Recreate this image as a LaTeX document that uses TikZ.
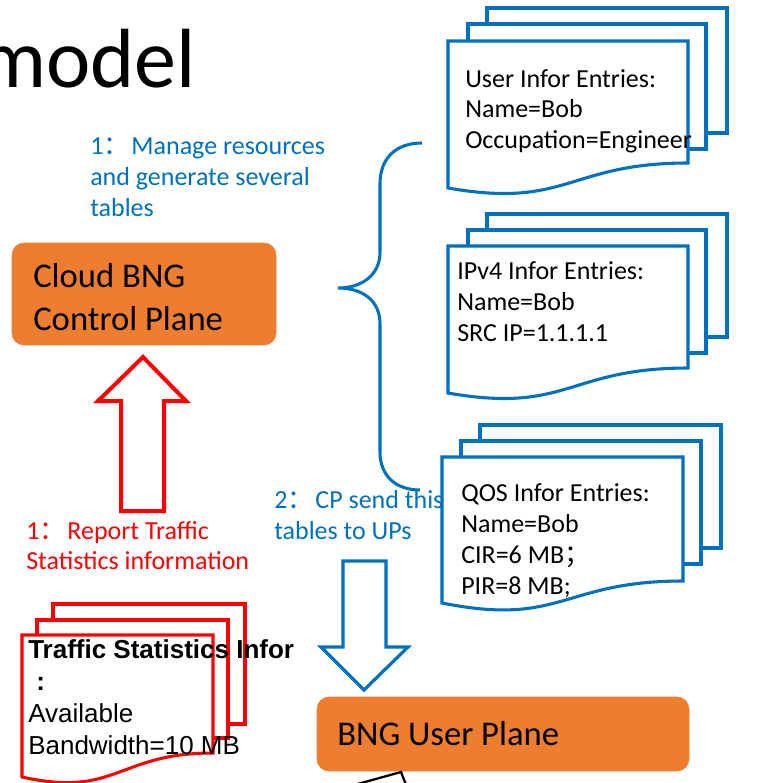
\documentclass[tikz,border=0pt]{standalone}
\usepackage{fontspec}
\setmainfont{Carlito}
\newfontfamily\arialf{Liberation Sans}
\newfontfamily\cjk{Noto Sans CJK SC}
\definecolor{pblue}{HTML}{0070C0}
\definecolor{porange}{HTML}{ED7D31}
\definecolor{pred}{HTML}{FF0000}
\newcommand\mylines[1]{\vtop{\let\\\cr\halign{##\hfil\cr#1\crcr}}}
\begin{document}
\begin{tikzpicture}[x=0.75pt,y=-0.75pt,
  docb/.style={draw=pblue, line width=2.3pt, fill=white, line join=miter},
  docr/.style={draw=pred, line width=2.3pt, fill=white, line join=miter},
  txt/.style={anchor=base west, inner sep=0pt, font=\fontsize{19.5pt}{23pt}\selectfont},
  boxo/.style={draw=porange, fill=porange, rounded corners=9pt, inner sep=0pt},
  bigtxt/.style={anchor=base west, inner sep=0pt, font=\fontsize{26pt}{32.25pt}\selectfont},
  barrow/.style={draw=pblue, line width=2.4pt, line join=miter},
  rarrow/.style={draw=pred, line width=3pt, line join=miter}]
\useasboundingbox (0,0) rectangle (759,783);
\clip (0,0) rectangle (759,783);

% title
\node[anchor=base east, inner sep=0pt, font=\fontsize{63pt}{63pt}\selectfont] (title) at (196,87) {model};

% step 1 label
\node[txt, text=pblue, font=\fontsize{19.5pt}{23.25pt}\selectfont] (lab1) at (90,154)
  {\mylines{1{\cjk：}\hspace{1.5pt}Manage resources\\and generate several\\tables}};

% control plane box
\node[boxo, minimum width=198pt, minimum height=76.5pt] (cp) at (144,294) {};
\node[bigtxt] (cptext) at (33,287) {\mylines{Cloud BNG\\Control Plane}};

% brace
\draw[pblue, line width=2.3pt] (422,143) .. controls (396,143) and (380,158) .. (380,184)
  -- (380,252) .. controls (380,275) and (362,288) .. (338,288)
  .. controls (362,288) and (380,300) .. (380,324)
  -- (380,452) .. controls (380,476) and (396,490) .. (420,490);

% step 2 label (under QOS doc)
\node[txt, text=pblue, font=\fontsize{19.5pt}{23.25pt}\selectfont] (lab2) at (274,508)
  {\mylines{2{\cjk：}\hspace{1.5pt}CP send this\\tables to UPs}};

% doc 1: user infor
\draw[docb] (487,8) rectangle (727,133);
\draw[docb] (468,24) rectangle (706,149);
\draw[docb] (448,41) -- (688,41) -- (688,163) .. controls (568,163) and (568,209) .. (448,188) -- cycle;
\node[txt, font=\fontsize{19.5pt}{22.9pt}\selectfont] (d1) at (465,87)
  {\mylines{User Infor Entries:\\Name=Bob\\Occupation=Engineer}};

% doc 2: ipv4
\draw[docb] (487,214) rectangle (727,337);
\draw[docb] (468,230) rectangle (706,353);
\draw[docb] (448,246) -- (688,246) -- (688,368) .. controls (568,368) and (568,414) .. (448,393) -- cycle;
\node[txt, font=\fontsize{19.5pt}{23.25pt}\selectfont] (d2) at (457,279)
  {\mylines{IPv4 Infor Entries:\\Name=Bob\\SRC IP=1.1.1.1}};

% doc 3: qos
\draw[docb] (480,425) rectangle (721,548);
\draw[docb] (461,441) rectangle (701,564);
\draw[docb] (442,457) -- (683,457) -- (683,581) .. controls (562,581) and (562,627) .. (442,603) -- cycle;
\node[txt, font=\fontsize{19.5pt}{23.25pt}\selectfont] (d3) at (461,501)
  {\mylines{QOS Infor Entries:\\Name=Bob\\CIR=6 MB{\cjk；}\\PIR=8 MB;}};

% red up arrow
\draw[rarrow] (143,357) -- (186,401) -- (164,401) -- (164,511) -- (121,511) -- (121,401) -- (98,401) -- cycle;
\node[txt, text=pred, font=\fontsize{19.5pt}{22.5pt}\selectfont] (lab3) at (26,539)
  {\mylines{1{\cjk：}\hspace{1.5pt}Report Traffic\\Statistics information}};

% blue down arrow
\draw[barrow] (343,561) -- (386,561) -- (386,647) -- (408,647) -- (364,690) -- (321,647) -- (343,647) -- cycle;

% user plane box
\node[boxo, minimum width=279pt, minimum height=55.5pt] (up) at (503,734) {};
\node[bigtxt] (uptext) at (337,745) {BNG User Plane};

% partial black shape at bottom
\draw[black, line width=1.7pt, line join=miter] (336,790) -- (401,772) -- (408,790);

% red traffic statistics doc
\draw[docr] (53,604) rectangle (245,724);
\draw[docr] (37,620) rectangle (228,738);
\draw[docr] (22,635) -- (213,635) -- (213,753) .. controls (117,753) and (117,798) .. (22,777) -- cycle;
\node[anchor=base west, inner sep=0pt, font=\arialf\fontsize{19.5pt}{24pt}\selectfont] (tsi) at (28,658)
  {\mylines{\bfseries Traffic Statistics Infor\\\hspace*{6pt}\bfseries :\\Available\\Bandwidth=10 MB}};
\end{tikzpicture}
\end{document}
